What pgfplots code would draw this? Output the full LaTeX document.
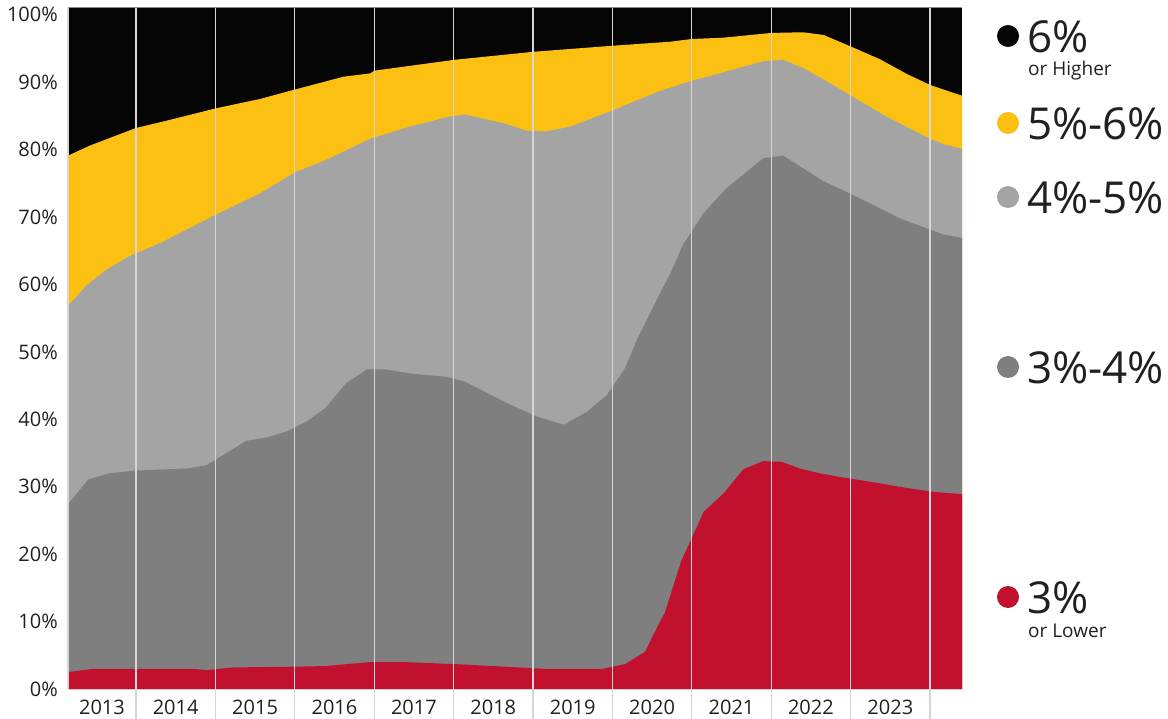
\documentclass[border=0pt]{standalone}
\usepackage{fontspec}
\setmainfont{Open Sans}
\usepackage{pgfplots}
\pgfplotsset{compat=1.18}
\definecolor{cBlack}{HTML}{050505}
\definecolor{cYellow}{HTML}{FBC012}
\definecolor{cLight}{HTML}{A4A4A4}
\definecolor{cDark}{HTML}{7F7F7F}
\definecolor{cRed}{HTML}{C2112F}
\definecolor{cText}{HTML}{231F20}
\definecolor{cGrid}{HTML}{D6D6D6}
\definecolor{cBorder}{HTML}{8C8C8C}
\begin{document}
\begin{tikzpicture}
\useasboundingbox (0pt,0pt) rectangle (1168pt,-719pt);
\begin{axis}[
  at={(68pt,-689pt)}, anchor=south west,
  scale only axis, width=894pt, height=681pt,
  xmin=2013.144, xmax=2024.403, ymin=0, ymax=101,
  axis on top,
  axis line style={draw=none},
  /pgf/number format/assume math mode=true,
  ytick={0,10,...,100},
  yticklabel={\pgfmathprintnumber{\tick}\%},
  yticklabel style={font=\fontsize{20}{20}\selectfont, text=cText, anchor=east, inner sep=0pt, xshift=-10pt},
  major y tick style={draw=none},
  xtick={2013.572,2014.5,2015.5,2016.5,2017.5,2018.5,2019.5,2020.5,2021.5,2022.5,2023.5},
  xticklabels={2013,2014,2015,2016,2017,2018,2019,2020,2021,2022,2023},
  xticklabel style={font=\fontsize{20}{20}\selectfont, text=cText, anchor=north, inner sep=0pt, yshift=-11pt},
  major x tick style={draw=none},
  xtick pos=lower, ytick pos=left,
  extra x ticks={2014,2015,2016,2017,2018,2019,2020,2021,2022,2023,2024},
  extra x tick labels={},
  extra x tick style={grid=major, major grid style={cGrid, line width=1.3pt},
     major tick length=30pt, tick align=outside,
     major x tick style={draw=cGrid, line width=1.3pt}},
]
% 6% or higher (top band reaches the frame)
\addplot[fill=cBlack, draw=none] coordinates {(2013.144,101) (2024.403,101)} \closedcycle;
% cumulative up to 6%
\addplot[fill=cYellow, draw=none] coordinates {
(2013.144,79.1) (2013.42,80.6) (2014.00,83.2) (2014.39,84.3) (2015.00,86.1)
(2015.56,87.5) (2016.00,88.9) (2016.61,90.8) (2016.95,91.3) (2017.00,91.7)
(2018.00,93.3) (2019.00,94.5) (2020.00,95.4) (2020.73,96.0) (2021.00,96.4)
(2021.40,96.6) (2022.00,97.3) (2022.40,97.4) (2022.66,97.0) (2023.00,95.3)
(2023.37,93.4) (2023.71,91.2) (2024.00,89.6) (2024.17,88.9) (2024.403,88.0)
} \closedcycle;
% cumulative up to 5%
\addplot[fill=cLight, draw=none] coordinates {
(2013.144,56.8) (2013.38,59.9) (2013.63,62.2) (2013.92,64.2) (2014.30,66.1)
(2015.00,70.3) (2015.56,73.5) (2016.00,76.6) (2016.40,78.5) (2016.95,81.6)
(2017.00,81.8) (2017.45,83.4) (2017.95,84.9) (2018.14,85.2) (2018.63,83.9)
(2018.92,82.8) (2019.17,82.7) (2019.47,83.4) (2020.00,85.8) (2020.60,88.7)
(2021.00,90.2) (2021.44,91.6) (2021.90,93.1) (2022.15,93.3) (2022.40,92.1)
(2022.66,90.4) (2023.00,88.0) (2023.45,84.9) (2024.00,81.6) (2024.17,80.8)
(2024.403,80.1)
} \closedcycle;
% cumulative up to 4%
\addplot[fill=cDark, draw=none] coordinates {
(2013.144,27.4) (2013.40,31.1) (2013.67,32.0) (2014.00,32.4) (2014.64,32.7)
(2014.89,33.2) (2015.39,36.8) (2015.65,37.3) (2015.90,38.2) (2016.15,39.7)
(2016.38,41.6) (2016.65,45.4) (2016.91,47.4) (2017.14,47.4) (2017.45,46.8)
(2017.91,46.3) (2018.14,45.6) (2018.67,42.4) (2019.05,40.4) (2019.39,39.2)
(2019.68,41.1) (2019.93,43.6) (2020.16,47.6) (2020.31,51.8) (2020.60,58.7)
(2020.73,61.6) (2020.89,65.9) (2021.15,70.6) (2021.44,74.3) (2021.90,78.7)
(2022.15,79.1) (2022.66,75.3) (2022.99,73.5) (2023.62,69.8) (2024.17,67.4)
(2024.403,66.9)
} \closedcycle;
% 3% or lower
\addplot[fill=cRed, draw=none] coordinates {
(2013.144,2.5) (2013.46,3.0) (2014.72,3.0) (2014.89,2.8) (2015.22,3.2)
(2015.94,3.3) (2016.38,3.4) (2016.95,4.0) (2017.36,4.0) (2018.00,3.7)
(2018.67,3.3) (2019.13,3.0) (2019.88,3.0) (2020.16,3.7) (2020.41,5.5)
(2020.60,10.0) (2020.66,11.3) (2020.87,19.1) (2021.00,22.4) (2021.15,26.3)
(2021.40,29.0) (2021.65,32.6) (2021.90,33.8) (2022.13,33.7) (2022.36,32.7)
(2022.61,32.0) (2022.89,31.4) (2023.37,30.5) (2023.71,29.8) (2024.08,29.2)
(2024.403,28.9)
} \closedcycle;
\end{axis}
\draw[cBorder, line width=1pt] (68pt,-8pt) -- (962pt,-8pt);
\draw[cGrid, line width=1.3pt] (68pt,-8pt) -- (68pt,-689pt);
% legend
\fill[cBlack] (1008pt,-36pt) circle (11pt);
\node[anchor=west, inner sep=0pt, font=\fontsize{44}{44}\selectfont, text=cText] at (1027pt,-37pt) {6\%};
\node[anchor=base west, inner sep=0pt, font=\fontsize{19}{19}\selectfont, text=cText] at (1028pt,-76pt) {or Higher};
\fill[cYellow] (1008pt,-123pt) circle (11pt);
\node[anchor=west, inner sep=0pt, font=\fontsize{44}{44}\selectfont, text=cText] at (1027pt,-124pt) {5\%-6\%};
\fill[cLight] (1008pt,-197pt) circle (11pt);
\node[anchor=west, inner sep=0pt, font=\fontsize{44}{44}\selectfont, text=cText] at (1027pt,-198pt) {4\%-5\%};
\fill[cDark] (1008pt,-367pt) circle (11pt);
\node[anchor=west, inner sep=0pt, font=\fontsize{44}{44}\selectfont, text=cText] at (1027pt,-368pt) {3\%-4\%};
\fill[cRed] (1008pt,-597pt) circle (11pt);
\node[anchor=west, inner sep=0pt, font=\fontsize{44}{44}\selectfont, text=cText] at (1027pt,-598pt) {3\%};
\node[anchor=base west, inner sep=0pt, font=\fontsize{19}{19}\selectfont, text=cText] at (1028pt,-637pt) {or Lower};
\end{tikzpicture}
\end{document}
